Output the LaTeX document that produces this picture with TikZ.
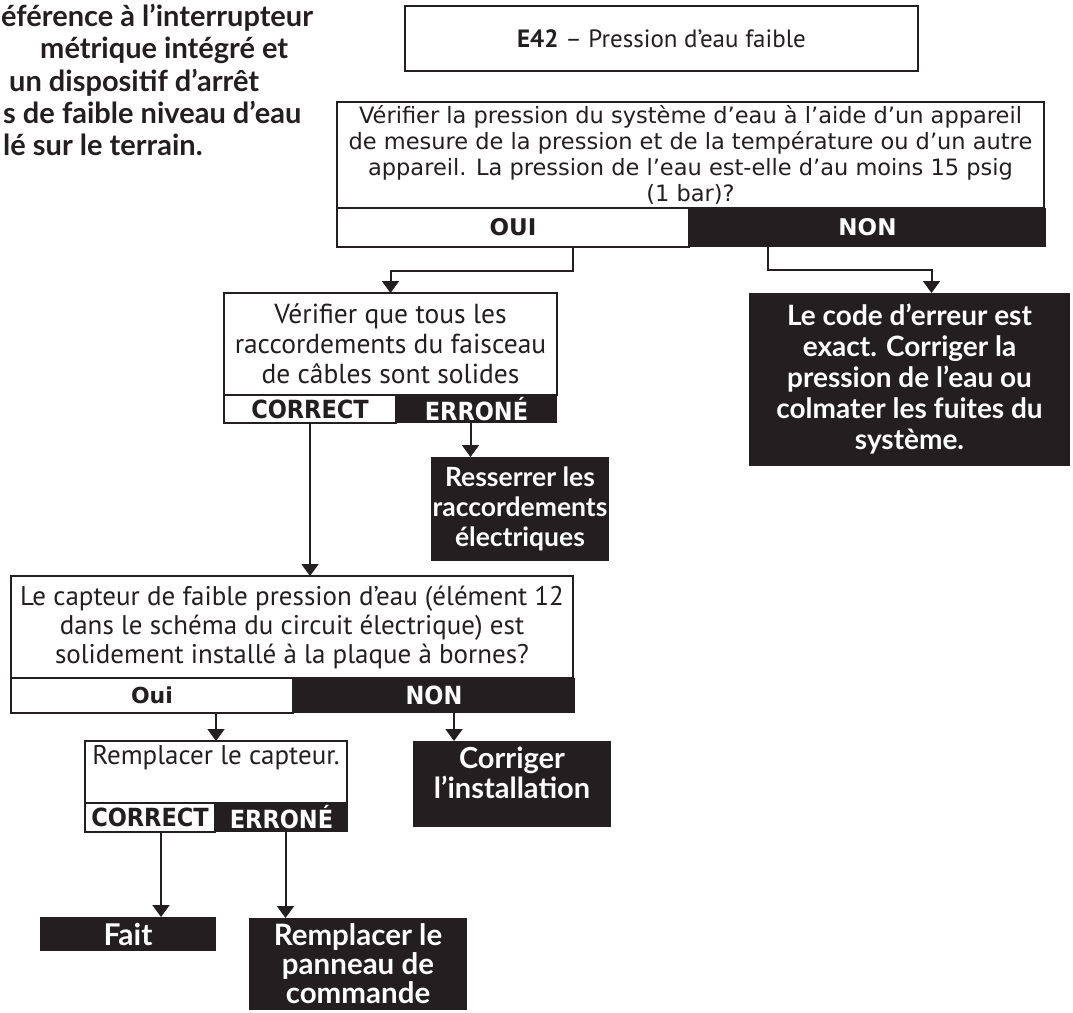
\documentclass[tikz,border=0pt]{standalone}
\usepackage{fontspec}
\setmainfont{PT Sans}
\newfontfamily\qfamily{DejaVu Sans}
\newfontfamily\labfamily{DejaVu Sans Condensed}
\newfontfamily\resfamily{Lato}
\usetikzlibrary{positioning,arrows.meta}
\definecolor{ink}{RGB}{35,31,32}
\tikzset{
  box/.style={draw=ink, line width=1.2pt, fill=white, text=ink, align=center, inner sep=0pt, outer sep=0pt},
  dark box/.style={fill=ink, text=white, align=center, inner sep=0pt, outer sep=0pt},
  result/.style={dark box, font=\resfamily\bfseries\fontsize{28.5}{31}\selectfont},
  answer/.style={font=\labfamily\bfseries\fontsize{25}{28}\selectfont},
  qanswer/.style={font=\qfamily\bfseries\fontsize{23}{26}\selectfont},
  note/.style={anchor=base west, inner sep=0pt, text=ink, font=\resfamily\bfseries\fontsize{29}{32}\selectfont},
  flow/.style={draw=ink, line width=2pt, -{Triangle[length=12pt,width=17pt]}},
}
\begin{document}
\begin{tikzpicture}[x=1pt, y=-1pt]
  \useasboundingbox (0,0) rectangle (1073,1012);

  % texte coupe a gauche
  \node[note] (note1) at (1,26) {éférence à l’interrupteur};
  \node[note] (note2) at (40,58) {métrique intégré et};
  \node[note] (note3) at (9,91) {un dispositif d’arrêt};
  \node[note] (note4) at (3,123) {s de faible niveau d’eau};
  \node[note] (note5) at (3,155) {lé sur le terrain.};

  % titre
  \node[box, line width=2.4pt, minimum width=513pt, minimum height=65pt,
        font=\fontsize{25}{30}\selectfont] (title) at (661.5,38.5)
        {\textbf{E42} -- Pression d’eau faible};

  % pression du systeme
  \node[box, minimum width=707pt, minimum height=106pt,
        font=\qfamily\fontsize{22.5}{25.8}\selectfont] (q1) at (690.5,155)
        {Vérifier la pression du système d’eau à l’aide d’un appareil\\
         de mesure de la pression et de la température ou d’un autre\\
         appareil. La pression de l’eau est-elle d’au moins 15 psig\\
         (1 bar)?};
  \node[box, qanswer, anchor=north west, minimum width=352pt, minimum height=39pt] (q1yes) at (q1.south west) {OUI};
  \node[dark box, qanswer, anchor=north west, minimum width=357pt, minimum height=39pt] (q1no) at (q1yes.north east) {NON};

  \node[result, minimum width=321pt, minimum height=173pt,
        font=\resfamily\bfseries\fontsize{28}{31}\selectfont] (r1) at (909.5,379.5)
        {Le code d’erreur est\\exact. Corriger la\\pression de l’eau ou\\colmater les fuites du\\système.};

  % raccordements
  \node[box, minimum width=333pt, minimum height=102pt,
        font=\fontsize{27.5}{30}\selectfont] (b2) at (390.5,344)
        {Vérifier que tous les\\raccordements du faisceau\\de câbles sont solides};
  \node[box, answer, anchor=north west, minimum width=172pt, minimum height=28pt] (b2yes) at (b2.south west) {CORRECT};
  \node[dark box, answer, anchor=north west, minimum width=161pt, minimum height=28pt] (b2no) at (b2yes.north east) {ERRONÉ};

  \node[result, minimum width=178pt, minimum height=104pt,
        font=\resfamily\bfseries\fontsize{26.5}{30}\selectfont] (r2) at (520,509)
        {Resserrer les\\raccordements\\électriques};

  % capteur
  \node[box, minimum width=562pt, minimum height=102pt,
        font=\fontsize{27}{29}\selectfont] (b3) at (292,627)
        {Le capteur de faible pression d’eau (élément 12\\
         dans le schéma du circuit électrique) est\\
         solidement installé à la plaque à bornes?};
  \node[box, qanswer, anchor=north west, minimum width=282pt, minimum height=35pt,
        font=\qfamily\bfseries\fontsize{22}{26}\selectfont] (b3yes) at (b3.south west) {Oui};
  \node[dark box, answer, anchor=north west, minimum width=282pt, minimum height=35pt] (b3no) at (b3yes.north east) {NON};

  \node[result, minimum width=198pt, minimum height=86pt, text depth=22pt,
        font=\resfamily\bfseries\fontsize{29}{30}\selectfont] (r3) at (512,784)
        {Corriger\\l’installation};

  \node[box, minimum width=262pt, minimum height=62pt, text height=20pt, text depth=36pt,
        font=\fontsize{27}{29}\selectfont] (b4) at (216,772)
        {Remplacer le capteur.};
  \node[box, answer, anchor=north west, minimum width=130pt, minimum height=29pt] (b4yes) at (b4.south west) {CORRECT};
  \node[dark box, answer, anchor=north west, minimum width=133pt, minimum height=29pt] (b4no) at (b4yes.north east) {ERRONÉ};

  \node[result, minimum width=176pt, minimum height=34pt,
        font=\resfamily\bfseries\fontsize{30}{30}\selectfont] (r4) at (128,934) {Fait};
  \node[result, minimum width=218pt, minimum height=92pt,
        font=\resfamily\bfseries\fontsize{29.5}{29}\selectfont] (r5) at (358,964)
        {Remplacer le\\panneau de\\commande};

  % connecteurs
  \draw[flow] ([xshift=60pt]q1yes.south) -- ++(0,24) -| (b2.north);
  \draw[flow] ([xshift=-100pt]q1no.south) -- ++(0,23) -| ([xshift=22pt]r1.north);
  \draw[flow] (b2yes.south) -- (b2yes.south |- b3.north);
  \draw[flow] ([xshift=-6pt]b2no.south) -- ([xshift=-6pt]b2no.south |- r2.north);
  \draw[flow] (b4.north |- b3yes.south) -- (b4.north);
  \draw[flow] ([xshift=20pt]b3no.south) -- ([xshift=20pt]b3no.south |- r3.north);
  \draw[flow] ([xshift=11pt]b4yes.south) -- ([xshift=11pt]b4yes.south |- r4.north);
  \draw[flow] ([xshift=4pt]b4no.south) -- ([xshift=4pt]b4no.south |- r5.north);
\end{tikzpicture}
\end{document}
